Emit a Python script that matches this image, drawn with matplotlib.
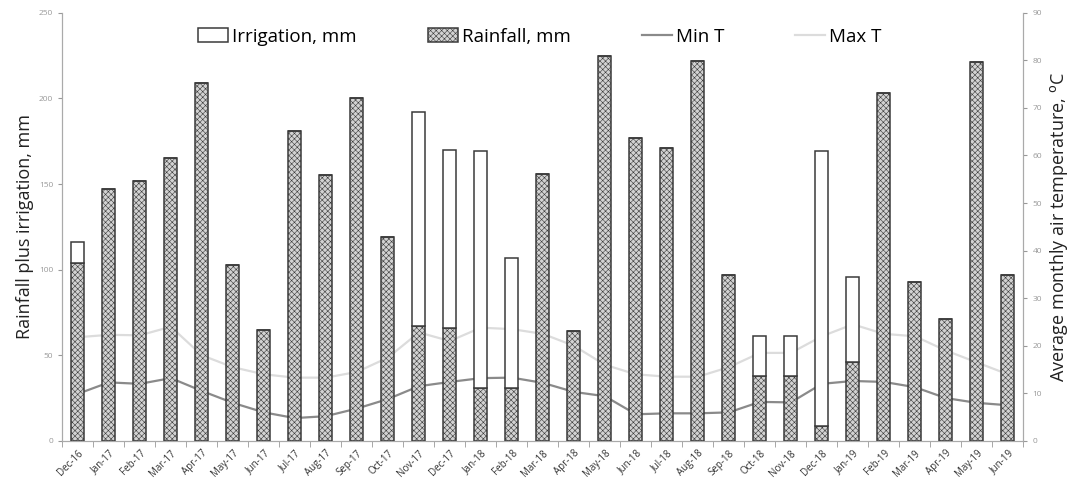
import numpy as np
import matplotlib.pyplot as plt

months = ["Dec-16", "Jan-17", "Feb-17", "Mar-17", "Apr-17", "May-17", "Jun-17", "Jul-17",
          "Aug-17", "Sep-17", "Oct-17", "Nov-17", "Dec-17", "Jan-18", "Feb-18", "Mar-18",
          "Apr-18", "May-18", "Jun-18", "Jul-18", "Aug-18", "Sep-18", "Oct-18", "Nov-18",
          "Dec-18", "Jan-19", "Feb-19", "Mar-19", "Apr-19", "May-19", "Jun-19"]

rainfall = [104, 147, 152, 165, 209, 103, 65, 181, 155, 200, 119, 67, 66, 31, 31, 156,
            64, 225, 177, 171, 222, 97, 38, 38, 9, 46, 203, 93, 71, 221, 97]
irrigation = [12, 0, 0, 0, 0, 0, 0, 0, 0, 0, 0, 125, 104, 138, 76, 0,
              0, 0, 0, 0, 0, 0, 23, 23, 160, 50, 0, 0, 0, 0, 0]

min_t = [9.9, 12.3, 12.0, 13.2, 10.5, 8.0, 6.0, 4.8, 5.2, 6.8, 8.8, 11.5, 12.4, 13.2, 13.3, 12.2,
         10.3, 9.4, 5.6, 5.8, 5.8, 6.0, 8.2, 8.1, 12.0, 12.6, 12.4, 11.3, 9.0, 8.0, 7.5]
max_t = [21.8, 22.3, 22.2, 24.0, 18.0, 15.5, 14.0, 13.3, 13.3, 14.5, 17.5, 22.8, 21.0, 23.8, 23.5, 22.5,
         20.0, 16.0, 14.0, 13.5, 13.5, 15.5, 18.5, 18.5, 22.0, 24.5, 22.5, 22.0, 19.0, 16.5, 14.0]

plt.rcParams['font.family'] = ['Open Sans', 'DejaVu Sans']
plt.rcParams['hatch.linewidth'] = 0.4
plt.rcParams['hatch.color'] = '#9a9a9a'

fig = plt.figure(figsize=(10.75, 4.91), dpi=100)
ax = fig.add_axes([0.058, 0.102, 0.894, 0.872])
ax2 = ax.twinx()

x = np.arange(len(months))
w = 0.42
b1 = ax.bar(x, rainfall, w, color='#d2d2d2', edgecolor='#3a3a3a', linewidth=1.1,
            hatch='xxxxxx', label='Rainfall, mm', zorder=2)
b2 = ax.bar(x, irrigation, w, bottom=rainfall, color='white', edgecolor='#3a3a3a',
            linewidth=1.1, label='Irrigation, mm', zorder=2)

l1, = ax2.plot(x, min_t, color='#8a8a8a', lw=1.6, label='Min T')
l2, = ax2.plot(x, max_t, color='#dcdcdc', lw=1.6, label='Max T')

ax.set_xlim(-0.5, len(months) - 0.5)
ax.set_ylim(0, 250)
ax2.set_ylim(0, 90)
ax.set_yticks(range(0, 251, 50))
ax2.set_yticks(range(0, 91, 10))

ax.set_xticks(x)
ax.set_xticklabels(months, rotation=45, ha='right', rotation_mode='anchor', fontsize=7,
                   color='#333333')
ax.tick_params(axis='x', length=0, pad=5)
ax.set_xticks(np.arange(-0.5, len(months), 1), minor=True)
ax.tick_params(axis='x', which='minor', length=4, color='#999999')
ax.tick_params(axis='y', labelsize=6, colors='#999999', length=3)
ax2.tick_params(axis='y', labelsize=6, colors='#999999', length=3)
for a in (ax, ax2):
    a.spines['top'].set_visible(False)
    for s in ('left', 'right', 'bottom'):
        a.spines[s].set_color('#aaaaaa')

ax.set_ylabel('Rainfall plus irrigation, mm', fontsize=13, color='#222222')
ax2.set_ylabel('Average monthly air temperature, $^{\\mathrm{o}}$C', fontsize=13, color='#222222')

ax.set_zorder(ax2.get_zorder() + 1)
ax.patch.set_visible(False)

leg = ax.legend([b2, b1, l1, l2], ['Irrigation, mm', 'Rainfall, mm', 'Min T', 'Max T'],
                loc='upper center', bbox_to_anchor=(0.497, 1.005), ncol=4, frameon=False,
                fontsize=13.5, columnspacing=3.8, handlelength=1.6, handletextpad=0.2)

fig.savefig('out.png', dpi=100)
